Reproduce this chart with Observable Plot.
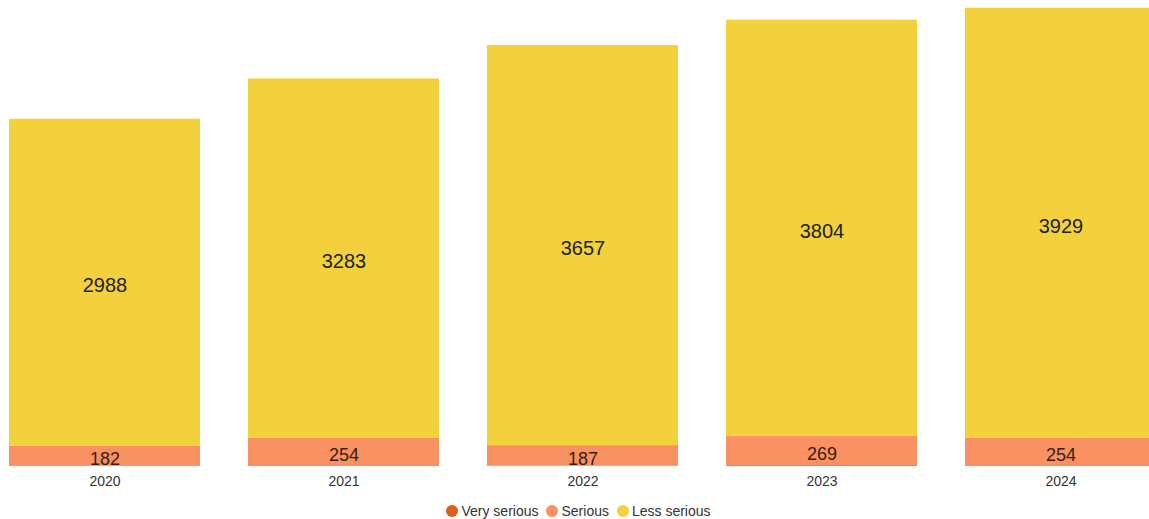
<!DOCTYPE html>
<html>
<head>
<meta charset="utf-8">
<script src="https://cdn.jsdelivr.net/npm/d3@7"></script>
<script src="https://cdn.jsdelivr.net/npm/@observablehq/plot@0.6"></script>
<style>
  html, body { margin: 0; padding: 0; background: #fff; }
  body { width: 1149px; height: 519px; overflow: hidden; font-family: "Liberation Sans", Arial, sans-serif; }
  #legend { display: flex; justify-content: center; align-items: center; gap: 8px; height: 16px; margin-top: 8px; padding-left: 8px; font-size: 14px; color: #333; }
  #legend .item { display: flex; align-items: center; gap: 3px; }
  #legend .sw { width: 12px; height: 12px; border-radius: 50%; display: inline-block; }
</style>
</head>
<body>
<div id="chart"></div>
<div id="legend"></div>
<script>
const years = ["2020", "2021", "2022", "2023", "2024"];
const categories = ["Very serious", "Serious", "Less serious"];
const verySerious = [5, 6, 4, 7, 6];
const serious = [182, 254, 187, 269, 254];
const lessSerious = [2988, 3283, 3657, 3804, 3929];
const colors = ["#de5c1c", "#f99162", "#f2d13d"];
const labelColors = ["#000", "#3a1c10", "#222"];

const series = [verySerious, serious, lessSerious];
const data = [];
years.forEach((yr, i) => {
  categories.forEach((c, j) => {
    data.push({year: yr, category: c, value: series[j][i]});
  });
});

const plot = Plot.plot({
  width: 1149,
  height: 495,
  marginTop: 0,
  marginBottom: 29,
  marginLeft: 0,
  marginRight: 0,
  style: {fontFamily: "'Liberation Sans', Arial, sans-serif", background: "#fff"},
  x: {domain: years, range: [-39, 1205], padding: 0.2, label: null, tickSize: 0, tickPadding: 10},
  y: {domain: [0, 4260], range: [466, 0], axis: null},
  color: {domain: categories, range: colors},
  marks: [
    Plot.barY(data, Plot.stackY({x: "year", y: "value", fill: "category", order: categories})),
    Plot.text(data, Plot.stackY({
      x: "year", y: "value", z: "category", order: categories,
      text: d => d.category === "Less serious" ? String(d.value) : "",
      fill: labelColors[2],
      fontSize: 20,
      dy: 3
    })),
    Plot.text(data, Plot.stackY({
      x: "year", y: "value", z: "category", order: categories,
      text: d => d.category === "Serious" ? String(d.value) : "",
      fill: labelColors[1],
      fontSize: 18,
      dy: 3
    })),
    Plot.axisX({tickSize: 0, tickPadding: 10, fontSize: 14, color: "#333", label: null})
  ]
});
document.getElementById("chart").appendChild(plot);

const legend = document.getElementById("legend");
categories.forEach((c, i) => {
  const item = document.createElement("span");
  item.className = "item";
  const sw = document.createElement("span");
  sw.className = "sw";
  sw.style.background = colors[i];
  const t = document.createElement("span");
  t.textContent = c;
  item.appendChild(sw);
  item.appendChild(t);
  legend.appendChild(item);
});
</script>
</body>
</html>
